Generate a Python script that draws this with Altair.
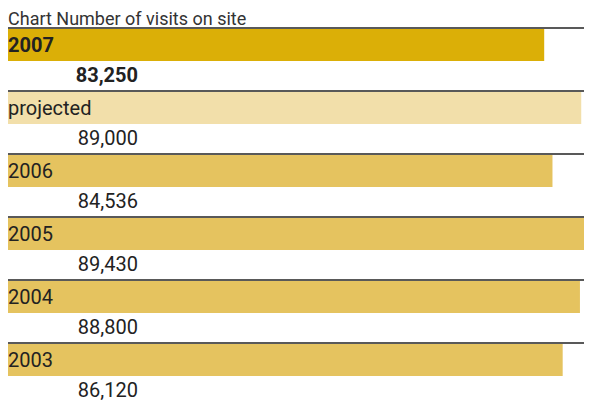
import altair as alt
import pandas as pd

# ---- data ----
title_text = "Chart Number of visits on site"
labels = ["2007", "projected", "2006", "2005", "2004", "2003"]
visits = [83250, 89000, 84536, 89430, 88800, 86120]
kinds = ["current", "projected", "past", "past", "past", "past"]

df = pd.DataFrame({"label": labels, "visits": visits, "kind": kinds})

W, H = 576, 396
ROW = 63
TOP = 20
FONT = "Roboto"
INK = "#222222"
HALF = ROW / 2

yscale = alt.Scale(range=[TOP, TOP + ROW * len(labels)], paddingInner=0, paddingOuter=0)
y = alt.Y("label:N", sort=labels, axis=None, scale=yscale)
x = alt.X("visits:Q", axis=None,
          scale=alt.Scale(domain=[0, max(visits)], range=[0, W], nice=False, zero=True))

base = alt.Chart(df)

rules = base.mark_rule(color=INK, strokeWidth=1.5, yOffset=-HALF).encode(
    y=y, x=alt.value(0), x2=alt.value(W)
)

bars = base.mark_bar(height=32, yOffset=-HALF + 17).encode(
    y=y,
    x=x,
    color=alt.Color("kind:N", legend=None,
                    scale=alt.Scale(domain=["current", "projected", "past"],
                                    range=["#DBAF07", "#F2DFAA", "#E5C35F"])),
)

layers = [rules, bars]
for is_cur, weight in [(True, "bold"), (False, "normal")]:
    filt = (alt.datum.kind == "current") if is_cur else (alt.datum.kind != "current")
    sub = base.transform_filter(filt)
    layers.append(sub.mark_text(align="left", baseline="middle", font=FONT, fontSize=20,
                                fontWeight=weight, color=INK, yOffset=-HALF + 18).encode(
        y=y, x=alt.value(0), text="label:N"))
    layers.append(sub.mark_text(align="right", baseline="middle", font=FONT, fontSize=20,
                                fontWeight=weight, color=INK, yOffset=-HALF + 48).encode(
        y=y, x=alt.value(130), text=alt.Text("visits:Q", format=",d")))

title = alt.Chart(pd.DataFrame({"t": [title_text]})).mark_text(
    align="left", baseline="top", font=FONT, fontSize=18, color="#333333"
).encode(x=alt.value(0), y=alt.value(3), text="t:N")
layers.append(title)

chart = alt.layer(*layers).properties(
    width=W, height=H, padding=0, autosize=alt.AutoSizeParams(type="none")
).configure_view(stroke=None)

chart.save("out.html", embed_options={"renderer": "svg", "actions": False})
